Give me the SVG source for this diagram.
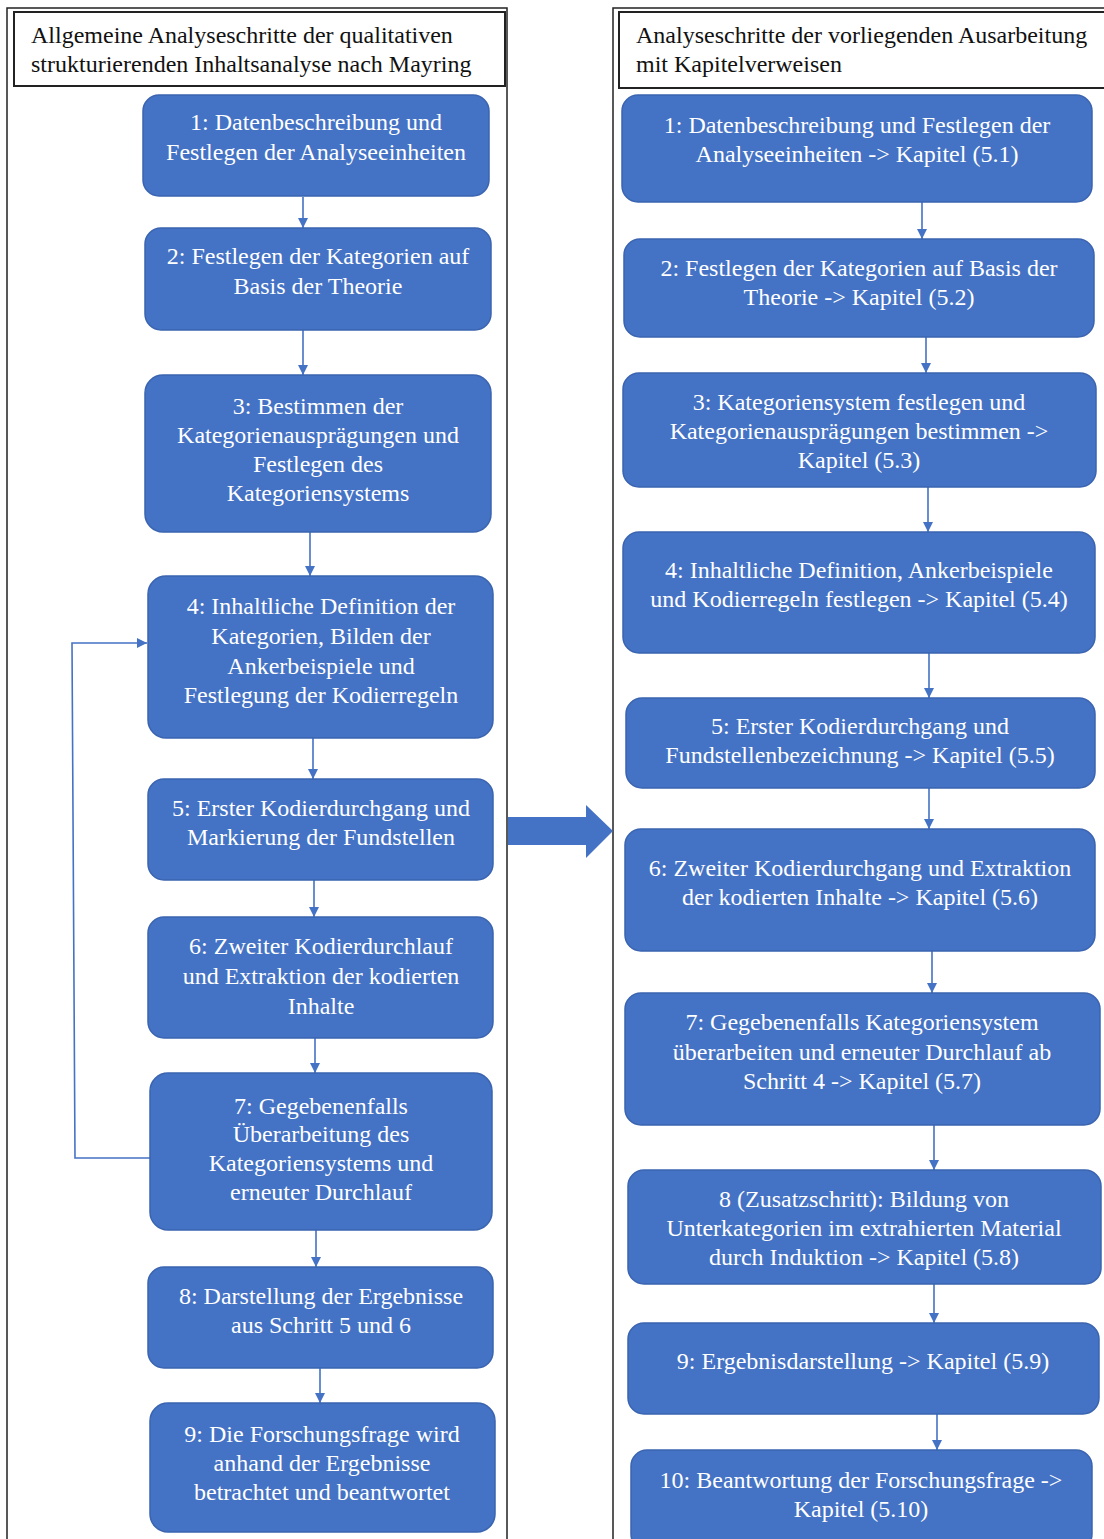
<svg xmlns="http://www.w3.org/2000/svg" width="1104" height="1539" viewBox="0 0 1104 1539">
<style>
.frame{fill:#fff;stroke:#222;stroke-width:1.5}
.hdr{fill:#fff;stroke:#222;stroke-width:2}
.hdrt{font-family:"Liberation Serif",serif;font-size:24px;fill:#111}
.box{fill:#4472C4;stroke:#3a64b0;stroke-width:1.5}
.t{font-family:"Liberation Serif",serif;font-size:24px;fill:#fff;text-anchor:middle}
.c{stroke:#4472C4;stroke-width:1.6;fill:none}
</style>
<defs>
<marker id="ah" viewBox="0 0 10 10" refX="10" refY="5" markerWidth="10" markerHeight="10" markerUnits="userSpaceOnUse" orient="auto">
<path d="M0,0 L10,5 L0,10 z" fill="#4472C4"/>
</marker>
</defs>
<rect width="1104" height="1539" fill="#fff"/>
<g id="frame-left"><rect class="frame" x="7" y="8" width="500" height="1545"/></g>
<g id="frame-right"><rect class="frame" x="613" y="8" width="500" height="1545"/></g>
<g id="header-left"><rect class="hdr" x="14" y="12" width="491" height="74"/>
<text class="hdrt" x="31" y="43">Allgemeine Analyseschritte der qualitativen</text>
<text class="hdrt" x="31" y="72">strukturierenden Inhaltsanalyse nach Mayring</text></g>
<g id="header-right"><rect class="hdr" x="619" y="12" width="490" height="76"/>
<text class="hdrt" x="636" y="43">Analyseschritte der vorliegenden Ausarbeitung</text>
<text class="hdrt" x="636" y="72">mit Kapitelverweisen</text></g>

<g id="connectors">
<line class="c" x1="303" y1="197" x2="303" y2="228" marker-end="url(#ah)"/>
<line class="c" x1="303" y1="330" x2="303" y2="375" marker-end="url(#ah)"/>
<line class="c" x1="310" y1="532" x2="310" y2="576" marker-end="url(#ah)"/>
<line class="c" x1="313" y1="738" x2="313" y2="779" marker-end="url(#ah)"/>
<line class="c" x1="314" y1="880" x2="314" y2="917" marker-end="url(#ah)"/>
<line class="c" x1="315" y1="1038" x2="315" y2="1073" marker-end="url(#ah)"/>
<line class="c" x1="316" y1="1230" x2="316" y2="1267" marker-end="url(#ah)"/>
<line class="c" x1="320" y1="1368" x2="320" y2="1403" marker-end="url(#ah)"/>
<polyline class="c" points="150,1158 75,1158 72,643 147,643" marker-end="url(#ah)"/>
<line class="c" x1="922" y1="202" x2="922" y2="239" marker-end="url(#ah)"/>
<line class="c" x1="926" y1="337" x2="926" y2="373" marker-end="url(#ah)"/>
<line class="c" x1="928" y1="487" x2="928" y2="532" marker-end="url(#ah)"/>
<line class="c" x1="929" y1="653" x2="929" y2="698" marker-end="url(#ah)"/>
<line class="c" x1="929" y1="788" x2="929" y2="829" marker-end="url(#ah)"/>
<line class="c" x1="932" y1="951" x2="932" y2="993" marker-end="url(#ah)"/>
<line class="c" x1="934" y1="1125" x2="934" y2="1170" marker-end="url(#ah)"/>
<line class="c" x1="934" y1="1284" x2="934" y2="1323" marker-end="url(#ah)"/>
<line class="c" x1="937" y1="1414" x2="937" y2="1450" marker-end="url(#ah)"/>
<path d="M508,817 L586,817 L586,805 L613,831 L586,858 L586,845 L508,845 z" fill="#4472C4"/>
</g>

<g id="L1"><rect class="box" x="143" y="95" width="346" height="101" rx="16"/>
<text class="t" x="316" y="130">1: Datenbeschreibung und</text>
<text class="t" x="316" y="160">Festlegen der Analyseeinheiten</text></g>
<g id="L2"><rect class="box" x="145" y="228" width="346" height="102" rx="16"/>
<text class="t" x="318" y="264">2: Festlegen der Kategorien auf</text>
<text class="t" x="318" y="294">Basis der Theorie</text></g>
<g id="L3"><rect class="box" x="145" y="375" width="346" height="157" rx="18"/>
<text class="t" x="318" y="414">3: Bestimmen der</text>
<text class="t" x="318" y="443">Kategorienausprägungen und</text>
<text class="t" x="318" y="472">Festlegen des</text>
<text class="t" x="318" y="501">Kategoriensystems</text></g>
<g id="L4"><rect class="box" x="148" y="576" width="345" height="162" rx="18"/>
<text class="t" x="321" y="614">4: Inhaltliche Definition der</text>
<text class="t" x="321" y="644">Kategorien, Bilden der</text>
<text class="t" x="321" y="674">Ankerbeispiele und</text>
<text class="t" x="321" y="703">Festlegung der Kodierregeln</text></g>
<g id="L5"><rect class="box" x="148" y="779" width="345" height="101" rx="16"/>
<text class="t" x="321" y="816">5: Erster Kodierdurchgang und</text>
<text class="t" x="321" y="845">Markierung der Fundstellen</text></g>
<g id="L6"><rect class="box" x="148" y="917" width="345" height="121" rx="16"/>
<text class="t" x="321" y="954">6: Zweiter Kodierdurchlauf</text>
<text class="t" x="321" y="984">und Extraktion der kodierten</text>
<text class="t" x="321" y="1014">Inhalte</text></g>
<g id="L7"><rect class="box" x="150" y="1073" width="342" height="157" rx="18"/>
<text class="t" x="321" y="1114">7: Gegebenenfalls</text>
<text class="t" x="321" y="1142">Überarbeitung des</text>
<text class="t" x="321" y="1171">Kategoriensystems und</text>
<text class="t" x="321" y="1200">erneuter Durchlauf</text></g>
<g id="L8"><rect class="box" x="148" y="1267" width="345" height="101" rx="16"/>
<text class="t" x="321" y="1304">8: Darstellung der Ergebnisse</text>
<text class="t" x="321" y="1333">aus Schritt 5 und 6</text></g>
<g id="L9"><rect class="box" x="150" y="1403" width="345" height="129" rx="18"/>
<text class="t" x="322" y="1442">9: Die Forschungsfrage wird</text>
<text class="t" x="322" y="1471">anhand der Ergebnisse</text>
<text class="t" x="322" y="1500">betrachtet und beantwortet</text></g>

<g id="R1"><rect class="box" x="622" y="95" width="470" height="107" rx="16"/>
<text class="t" x="857" y="133">1: Datenbeschreibung und Festlegen der</text>
<text class="t" x="857" y="162">Analyseeinheiten -&gt; Kapitel (5.1)</text></g>
<g id="R2"><rect class="box" x="624" y="239" width="470" height="98" rx="16"/>
<text class="t" x="859" y="276">2: Festlegen der Kategorien auf Basis der</text>
<text class="t" x="859" y="305">Theorie -&gt; Kapitel (5.2)</text></g>
<g id="R3"><rect class="box" x="623" y="373" width="473" height="114" rx="16"/>
<text class="t" x="859" y="410">3: Kategoriensystem festlegen und</text>
<text class="t" x="859" y="439">Kategorienausprägungen bestimmen -&gt;</text>
<text class="t" x="859" y="468">Kapitel (5.3)</text></g>
<g id="R4"><rect class="box" x="623" y="532" width="472" height="121" rx="16"/>
<text class="t" x="859" y="578">4: Inhaltliche Definition, Ankerbeispiele</text>
<text class="t" x="859" y="607">und Kodierregeln festlegen -&gt; Kapitel (5.4)</text></g>
<g id="R5"><rect class="box" x="626" y="698" width="469" height="90" rx="16"/>
<text class="t" x="860" y="734">5: Erster Kodierdurchgang und</text>
<text class="t" x="860" y="763">Fundstellenbezeichnung -&gt; Kapitel (5.5)</text></g>
<g id="R6"><rect class="box" x="625" y="829" width="470" height="122" rx="16"/>
<text class="t" x="860" y="876">6: Zweiter Kodierdurchgang und Extraktion</text>
<text class="t" x="860" y="905">der kodierten Inhalte -&gt; Kapitel (5.6)</text></g>
<g id="R7"><rect class="box" x="625" y="993" width="475" height="132" rx="16"/>
<text class="t" x="862" y="1030">7: Gegebenenfalls Kategoriensystem</text>
<text class="t" x="862" y="1060">überarbeiten und erneuter Durchlauf ab</text>
<text class="t" x="862" y="1089">Schritt 4 -&gt; Kapitel (5.7)</text></g>
<g id="R8"><rect class="box" x="628" y="1170" width="473" height="114" rx="16"/>
<text class="t" x="864" y="1207">8 (Zusatzschritt): Bildung von</text>
<text class="t" x="864" y="1236">Unterkategorien im extrahierten Material</text>
<text class="t" x="864" y="1265">durch Induktion -&gt; Kapitel (5.8)</text></g>
<g id="R9"><rect class="box" x="628" y="1323" width="471" height="91" rx="16"/>
<text class="t" x="863" y="1369">9: Ergebnisdarstellung -&gt; Kapitel (5.9)</text></g>
<g id="R10"><rect class="box" x="631" y="1450" width="461" height="100" rx="16"/>
<text class="t" x="861" y="1488">10: Beantwortung der Forschungsfrage -&gt;</text>
<text class="t" x="861" y="1517">Kapitel (5.10)</text></g>
</svg>
